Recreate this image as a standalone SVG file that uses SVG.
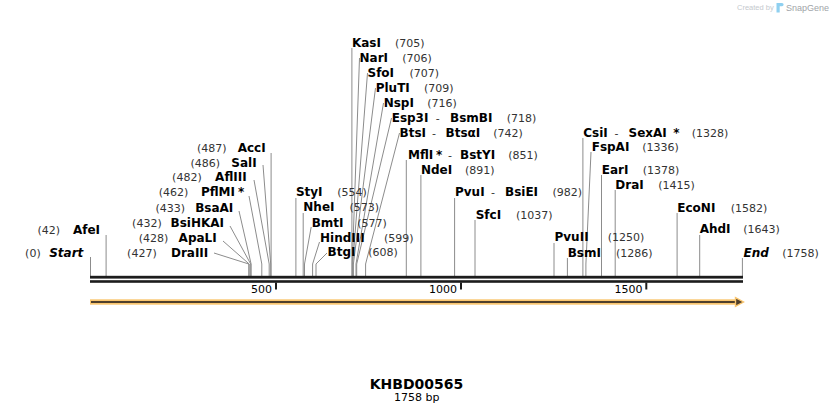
<svg xmlns="http://www.w3.org/2000/svg" width="834" height="415" viewBox="0 0 834 415">
<style>
.n{font-family:"DejaVu Sans",Verdana,sans-serif;font-weight:bold;font-size:12px;fill:#000}
.i{font-style:italic}
.p{font-family:"DejaVu Sans",Verdana,sans-serif;font-size:11px;fill:#333}
.h{font-family:"DejaVu Sans",Verdana,sans-serif;font-size:11px;fill:#333}
.e{text-anchor:end}
.c{fill:none;stroke:#8c8c8c;stroke-width:1}
.tk{font-family:"DejaVu Sans",Verdana,sans-serif;font-size:11px;fill:#000;text-anchor:end}
</style>
<rect width="834" height="415" fill="#fff"/>

<g id="watermark">
<text x="737" y="9.5" font-family="Liberation Sans,Arial,sans-serif" font-size="7.5" fill="#c5c9ce">Created by</text>
<path d="M776.5,3 h5.5 a1.6,1.6 0 0 1 0,3.2 h-2.3 v6.3 h-3.2 z" fill="#8fd0f0"/>
<text x="786" y="10.5" font-family="Liberation Sans,Arial,sans-serif" font-size="9" fill="#a0a4a8">SnapGene</text>
</g>

<g id="connectors">
<path class="c" d="M90.5,257V276"/>
<path class="c" d="M106.1,235V276"/>
<path class="c" d="M214,253L248.8,264V276"/>
<path class="c" d="M223,241L249.2,264V276"/>
<path class="c" d="M230,226L250.7,264V276"/>
<path class="c" d="M239,211L251.1,264V276"/>
<path class="c" d="M249,196L261.8,264V276"/>
<path class="c" d="M254,180L269.2,264V276"/>
<path class="c" d="M263,165L270.7,264V276"/>
<path class="c" d="M271.1,153V276"/>
<path class="c" d="M295.9,198V276"/>
<path class="c" d="M303.2,213V276"/>
<path class="c" d="M311.2,227L304.5,264V276"/>
<path class="c" d="M319.5,242L312.6,264V276"/>
<path class="c" d="M327,253L316,264V276"/>
<path class="c" d="M351.9,48V276"/>
<path class="c" d="M359.5,58L352.3,264V276"/>
<path class="c" d="M367.5,73L352.7,264V276"/>
<path class="c" d="M375.5,88L353.4,264V276"/>
<path class="c" d="M383.5,103L356,264V276"/>
<path class="c" d="M391.5,118L356.7,264V276"/>
<path class="c" d="M399.5,133L365.6,264V276"/>
<path class="c" d="M406.3,160V276"/>
<path class="c" d="M420.9,175V276"/>
<path class="c" d="M454.6,198V276"/>
<path class="c" d="M475,220V276"/>
<path class="c" d="M554,243V276"/>
<path class="c" d="M567.4,258V276"/>
<path class="c" d="M582.9,138V276"/>
<path class="c" d="M591,152L585.9,264V276"/>
<path class="c" d="M601.5,175V276"/>
<path class="c" d="M615.2,190V276"/>
<path class="c" d="M677.1,213V276"/>
<path class="c" d="M699.7,235V276"/>
<path class="c" d="M742.4,258V276"/>
</g>

<g id="backbone">
<rect x="90" y="275.8" width="653" height="2.8" fill="#1c1c1c"/>
<rect x="90" y="280.2" width="653" height="2.6" fill="#1c1c1c"/>
<rect x="275" y="282.5" width="2" height="7" fill="#1c1c1c"/>
<rect x="460" y="282.5" width="2" height="7" fill="#1c1c1c"/>
<rect x="645.3" y="282.5" width="2" height="7" fill="#1c1c1c"/>
<text class="tk" x="272" y="292.7">500</text>
<text class="tk" x="457" y="292.7">1000</text>
<text class="tk" x="642.5" y="292.7">1500</text>
</g>

<g id="feature-arrow">
<rect x="90" y="299.3" width="648" height="5.4" fill="#f9c670"/>
<line x1="91" y1="302" x2="738" y2="302" stroke="#4f3f2b" stroke-width="2"/>
<path d="M735.5,297.6 L743.5,302 L735.5,306.4 Z" fill="#4f3f2b" stroke="#f9c670" stroke-width="1.4"/>
</g>

<g id="site-Start"><text class="p e" x="40.7" y="256.5">(0)</text><text class="n i e" x="83.3" y="256.5">Start</text></g>
<g id="site-AfeI"><text class="p e" x="60" y="233.5">(42)</text><text class="n e" x="100" y="233.5">AfeI</text></g>
<g id="site-DraIII"><text class="p e" x="156.7" y="256.5">(427)</text><text class="n e" x="208.3" y="256.5">DraIII</text></g>
<g id="site-ApaLI"><text class="p e" x="168.3" y="241.5">(428)</text><text class="n e" x="216.7" y="241.5">ApaLI</text></g>
<g id="site-BsiHKAI"><text class="p e" x="161.7" y="226.5">(432)</text><text class="n e" x="224" y="226.5">BsiHKAI</text></g>
<g id="site-BsaAI"><text class="p e" x="185" y="211.5">(433)</text><text class="n e" x="233.3" y="211.5">BsaAI</text></g>
<g id="site-PflMI"><text class="p e" x="188.3" y="196">(462)</text><text class="n e" x="235" y="196">PflMI</text><text class="n" x="238" y="196">*</text></g>
<g id="site-AflIII"><text class="p e" x="201.7" y="181">(482)</text><text class="n e" x="246.7" y="181">AflIII</text></g>
<g id="site-SalI"><text class="p e" x="220" y="166.5">(486)</text><text class="n e" x="256.7" y="166.5">SalI</text></g>
<g id="site-AccI"><text class="p e" x="226.5" y="151.5">(487)</text><text class="n e" x="265.7" y="151.5">AccI</text></g>

<g id="site-StyI"><text class="n" x="295.9" y="196">StyI</text><text class="p" x="337.3" y="196">(554)</text></g>
<g id="site-NheI"><text class="n" x="303.3" y="211">NheI</text><text class="p" x="349.5" y="211">(573)</text></g>
<g id="site-BmtI"><text class="n" x="311.7" y="226.5">BmtI</text><text class="p" x="357.3" y="226.5">(577)</text></g>
<g id="site-HindIII"><text class="n" x="320" y="241.5">HindIII</text><text class="p" x="384" y="241.5">(599)</text></g>
<g id="site-BtgI"><text class="n" x="327.5" y="256.3">BtgI</text><text class="p" x="368.3" y="256.3">(608)</text></g>

<g id="site-KasI"><text class="n" x="351.9" y="47">KasI</text><text class="p" x="395" y="47">(705)</text></g>
<g id="site-NarI"><text class="n" x="359.5" y="62">NarI</text><text class="p" x="402.3" y="62">(706)</text></g>
<g id="site-SfoI"><text class="n" x="367.5" y="77">SfoI</text><text class="p" x="409.5" y="77">(707)</text></g>
<g id="site-PluTI"><text class="n" x="375.7" y="92">PluTI</text><text class="p" x="424" y="92">(709)</text></g>
<g id="site-NspI"><text class="n" x="383.7" y="106.5">NspI</text><text class="p" x="427.3" y="106.5">(716)</text></g>
<g id="site-Esp3I-BsmBI"><text class="n" x="391.7" y="121.5">Esp3I</text><text class="h" x="435.7" y="121.5">-</text><text class="n" x="450" y="121.5">BsmBI</text><text class="p" x="506.7" y="121.5">(718)</text></g>
<g id="site-BtsI-BtsaI"><text class="n" x="399.5" y="136.5">BtsI</text><text class="h" x="432" y="136.5">-</text><text class="n" x="445.5" y="136.5">BtsαI</text><text class="p" x="493.3" y="136.5">(742)</text></g>
<g id="site-MflI-BstYI"><text class="n" x="408" y="158.5">MflI</text><text class="n" x="436" y="158.5">*</text><text class="h" x="448" y="158.5">-</text><text class="n" x="460" y="158.5">BstYI</text><text class="p" x="508.3" y="158.5">(851)</text></g>
<g id="site-NdeI"><text class="n" x="420.9" y="173.5">NdeI</text><text class="p" x="465" y="173.5">(891)</text></g>
<g id="site-PvuI-BsiEI"><text class="n" x="455" y="196">PvuI</text><text class="h" x="491" y="196">-</text><text class="n" x="505" y="196">BsiEI</text><text class="p" x="552.5" y="196">(982)</text></g>
<g id="site-SfcI"><text class="n" x="475.7" y="218.5">SfcI</text><text class="p" x="516" y="218.5">(1037)</text></g>
<g id="site-PvuII"><text class="n" x="554.5" y="241.2">PvuII</text><text class="p" x="607.7" y="241.2">(1250)</text></g>
<g id="site-BsmI"><text class="n" x="567.7" y="256.7">BsmI</text><text class="p" x="616" y="256.7">(1286)</text></g>
<g id="site-CsiI-SexAI"><text class="n" x="583.3" y="137">CsiI</text><text class="h" x="614.5" y="137">-</text><text class="n" x="628.5" y="137">SexAI</text><text class="n" x="673.3" y="137">*</text><text class="p" x="691.7" y="137">(1328)</text></g>
<g id="site-FspAI"><text class="n" x="591.7" y="151">FspAI</text><text class="p" x="642.3" y="151">(1336)</text></g>
<g id="site-EarI"><text class="n" x="601.7" y="174">EarI</text><text class="p" x="642.7" y="174">(1378)</text></g>
<g id="site-DraI"><text class="n" x="615.3" y="188.5">DraI</text><text class="p" x="658.3" y="188.5">(1415)</text></g>
<g id="site-EcoNI"><text class="n" x="677.3" y="212">EcoNI</text><text class="p" x="730.7" y="212">(1582)</text></g>
<g id="site-AhdI"><text class="n" x="699.7" y="233">AhdI</text><text class="p" x="743.3" y="233">(1643)</text></g>
<g id="site-End"><text class="n i" x="743.5" y="257">End</text><text class="p" x="782.3" y="257">(1758)</text></g>

<g id="title">
<text x="416.5" y="389" text-anchor="middle" font-family="DejaVu Sans,Verdana,sans-serif" font-weight="bold" font-size="14" fill="#000">KHBD00565</text>
<text x="416.7" y="401" text-anchor="middle" font-family="DejaVu Sans,Verdana,sans-serif" font-size="11" fill="#000">1758 bp</text>
</g>
</svg>
